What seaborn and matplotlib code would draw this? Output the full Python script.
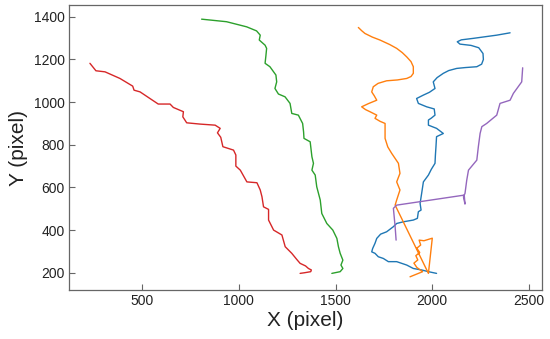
import matplotlib

matplotlib.use("Agg")
import matplotlib.pyplot as plt
import pandas as pd
import seaborn as sns

# trajectories (data coordinates, pixels)
blue_x = [2402, 2333, 2212, 2150, 2129, 2143, 2200, 2240, 2262, 2264, 2255, 2230,
          2170, 2126, 2085, 2057, 2025, 2005, 2014, 1985, 1954, 1919, 1928, 1971,
          2010, 2014, 1995, 1980, 1980, 2022, 2057, 2022, 2019, 2016, 2014, 1995,
          1980, 1954, 1945, 1937, 1942, 1928, 1923, 1902, 1851, 1816, 1799, 1764,
          1733, 1713, 1704, 1692, 1687, 1704, 1721, 1747, 1773, 1816, 1868, 1902,
          1945, 1980, 2022]
blue_y = [1325, 1314, 1299, 1292, 1283, 1272, 1266, 1255, 1228, 1200, 1178, 1166,
          1162, 1158, 1148, 1135, 1115, 1095, 1064, 1046, 1033, 1017, 994, 978,
          968, 939, 925, 916, 892, 877, 853, 838, 791, 750, 713, 685,
          658, 626, 572, 525, 494, 486, 455, 447, 439, 431, 416, 392,
          381, 361, 338, 314, 298, 291, 275, 267, 252, 252, 236, 220,
          213, 205, 197]

orange_x = [1618, 1635, 1652, 1690, 1730, 1780, 1816, 1845, 1868, 1890, 1902, 1902,
            1890, 1868, 1820, 1764, 1720, 1695, 1687, 1700, 1713, 1670, 1635, 1655,
            1678, 1713, 1704, 1730, 1756, 1756, 1770, 1790, 1825, 1833, 1816, 1833,
            1816, 1808, 1980, 2000, 1957, 1932, 1940, 1920, 1935, 1915, 1925, 1905,
            1920, 1950, 1885]
orange_y = [1350, 1335, 1322, 1305, 1291, 1270, 1252, 1232, 1212, 1190, 1166, 1135,
            1120, 1111, 1104, 1100, 1088, 1072, 1048, 1030, 1009, 993, 978, 965,
            955, 939, 924, 910, 900, 830, 790, 760, 713, 666, 626, 588,
            541, 517, 197, 362, 350, 353, 330, 315, 295, 280, 260, 245,
            225, 205, 181]

green_x = [808, 937, 1041, 1092, 1111, 1106, 1136, 1144, 1140, 1136, 1161, 1192,
           1196, 1187, 1205, 1239, 1265, 1274, 1308, 1330, 1335, 1337, 1369, 1378,
           1386, 1378, 1395, 1403, 1421, 1429, 1455, 1486, 1507, 1515, 1524, 1538,
           1528, 1538, 1524, 1481]
green_y = [1389, 1377, 1353, 1334, 1314, 1291, 1267, 1252, 1215, 1182, 1166, 1127,
           1095, 1064, 1038, 1025, 994, 947, 939, 900, 860, 830, 814, 744,
           713, 681, 658, 603, 541, 478, 431, 400, 361, 322, 291, 259,
           236, 220, 205, 197]

red_x = [231, 262, 309, 386, 452, 459, 490, 541, 584, 645, 662, 714,
         711, 731, 800, 878, 904, 890, 907, 918, 973, 985, 985, 1008,
         1042, 1094, 1111, 1120, 1128, 1154, 1154, 1180, 1223, 1240, 1274, 1300,
         1317, 1345, 1360, 1375, 1372, 1340, 1317]
red_y = [1182, 1147, 1142, 1111, 1075, 1056, 1048, 1017, 991, 991, 975, 955,
         931, 903, 897, 892, 877, 856, 835, 791, 775, 752, 700, 681,
         626, 622, 588, 556, 509, 497, 447, 400, 377, 322, 291, 262,
         244, 232, 220, 213, 205, 200, 197]

purple_x = [2467, 2462, 2419, 2402, 2350, 2333, 2281, 2256, 2247, 2238, 2230, 2187,
            2178, 2169, 2161, 2169, 2165, 1816, 1799, 1808, 1813]
purple_y = [1161, 1095, 1041, 1009, 994, 939, 900, 885, 853, 791, 728, 681,
            634, 572, 556, 522, 564, 517, 502, 416, 353]

tracks = [
    (blue_x, blue_y, "tab:blue"),
    (orange_x, orange_y, "tab:orange"),
    (green_x, green_y, "tab:green"),
    (red_x, red_y, "tab:red"),
    (purple_x, purple_y, "tab:purple"),
]

sns.set_theme(style="white")
plt.rcParams["font.family"] = ["Liberation Sans", "DejaVu Sans"]

fig = plt.figure(figsize=(5.5, 3.39), dpi=100)
ax = fig.add_axes([0.1255, 0.1445, 0.86, 0.8405])

for xs, ys, colour in tracks:
    df = pd.DataFrame({"x": xs, "y": ys})
    sns.lineplot(data=df, x="x", y="y", sort=False, estimator=None,
                 color=colour, lw=1.0, ax=ax)

ax.set_xlim(123, 2567)
ax.set_ylim(119, 1455)
ax.set_xticks([500, 1000, 1500, 2000, 2500])
ax.set_yticks([200, 400, 600, 800, 1000, 1200, 1400])
ax.tick_params(bottom=True, left=True, direction="in", length=4, width=0.8,
               labelsize=10, colors="#666666", labelcolor="#222222", pad=3)
for s in ax.spines.values():
    s.set_color("#666666")
    s.set_linewidth(0.9)
ax.set_xlabel("X (pixel)", fontsize=15, color="#222222", labelpad=2)
ax.set_ylabel("Y (pixel)", fontsize=15, color="#222222", labelpad=4)

fig.savefig("out.png", dpi=100)
